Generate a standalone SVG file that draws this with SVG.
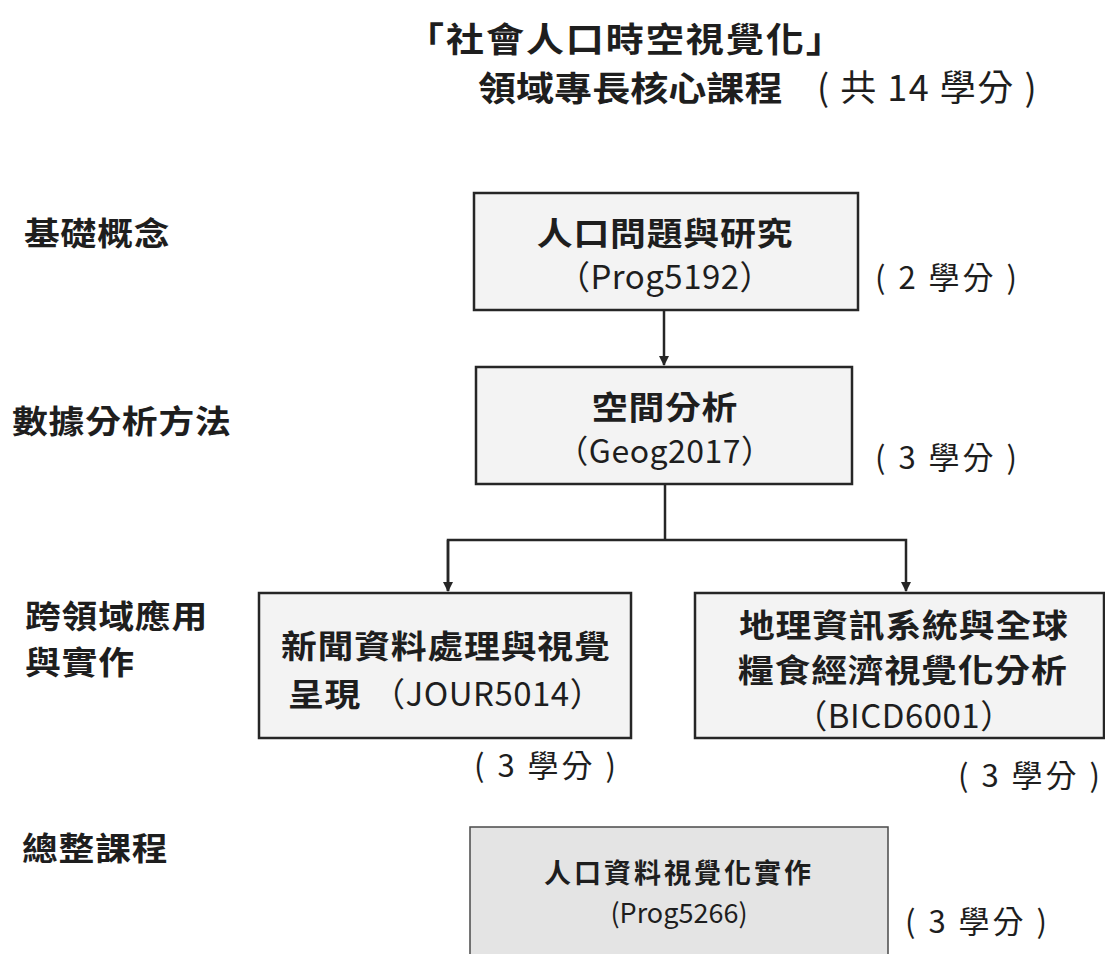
<svg xmlns="http://www.w3.org/2000/svg" width="1105" height="954" viewBox="0 0 1105 954">
<style>
text{font-family:"Noto Sans CJK TC","Noto Sans CJK SC",sans-serif;fill:#1e1e1e}
.b{font-weight:700;font-size:32px;letter-spacing:0.7px}
.r{font-weight:400;font-size:33px;letter-spacing:0.5px}
.c{font-weight:400;font-size:31px;letter-spacing:3px}
.t{font-weight:700;font-size:34px}
.box{fill:#f3f3f3;stroke:#262626;stroke-width:2.5}
.box5{fill:#e4e4e4;stroke:#4a4a4a;stroke-width:1.5}
.con{fill:none;stroke:#262626;stroke-width:2.5}
</style>
<defs>
<marker id="ah" viewBox="0 0 10 10" refX="9" refY="5" markerWidth="4" markerHeight="4" orient="auto" markerUnits="strokeWidth">
<path d="M0,0 L10,5 L0,10 z" fill="#262626"/>
</marker>
</defs>
<rect width="1105" height="954" fill="#ffffff"/>
<g id="title">
<text class="t" transform="translate(406,52) scale(1.12,1)" style="letter-spacing:1.7px">「社會人口時空視覺化」</text>
<text class="t" transform="translate(478,101) scale(1.12,1)">領域專長核心課程</text>
<text x="817" y="101" style="font-weight:400;font-size:36px;letter-spacing:1.5px">( 共 14 學分 )</text>
</g>
<g id="levels">
<text class="b" transform="translate(24,245) scale(1.12,1)">基礎概念</text>
<text class="b" transform="translate(12,433) scale(1.12,1)">數據分析方法</text>
<text class="b" transform="translate(25,628) scale(1.12,1)">跨領域應用</text>
<text class="b" transform="translate(25,674) scale(1.12,1)">與實作</text>
<text class="b" transform="translate(22,860) scale(1.12,1)">總整課程</text>
</g>
<g id="connectors">
<line class="con" x1="664" y1="310" x2="664" y2="365" marker-end="url(#ah)"/>
<polyline class="con" points="665,484 665,540"/>
<polyline class="con" points="448,591 448,540 906,540 906,591" marker-end="url(#ah)"/>
<line class="con" x1="448" y1="540" x2="448" y2="591" marker-end="url(#ah)"/>
</g>
<g id="n1">
<rect class="box" x="474" y="193" width="384" height="117"/>
<text class="b" transform="translate(665,245) scale(1.12,1)" text-anchor="middle">人口問題與研究</text>
<text class="r" x="665" y="289" text-anchor="middle">（Prog5192）</text>
<text class="c" x="875" y="289">( 2 學分 )</text>
</g>
<g id="n2">
<rect class="box" x="476" y="367" width="376" height="117"/>
<text class="b" transform="translate(665,419) scale(1.12,1)" text-anchor="middle">空間分析</text>
<text class="r" x="665" y="463" text-anchor="middle" style="font-size:32px">（Geog2017）</text>
<text class="c" x="875" y="469">( 3 學分 )</text>
</g>
<g id="n3">
<rect class="box" x="259" y="593" width="372" height="145"/>
<text class="b" transform="translate(281,658) scale(1.12,1)">新聞資料處理與視覺</text>
<text class="b" transform="translate(288,706) scale(1.12,1)">呈現</text>
<text class="r" x="372" y="706">（JOUR5014）</text>
<text class="c" x="474" y="777">( 3 學分 )</text>
</g>
<g id="n4">
<rect class="box" x="695" y="593" width="409" height="145"/>
<text class="b" transform="translate(739,637) scale(1.12,1)">地理資訊系統與全球</text>
<text class="b" transform="translate(738,682) scale(1.12,1)">糧食經濟視覺化分析</text>
<text class="r" x="904" y="728" text-anchor="middle">（BICD6001）</text>
<text class="c" x="958" y="787">( 3 學分 )</text>
</g>
<g id="n5">
<rect class="box5" x="470" y="827" width="418" height="140"/>
<text x="679" y="883" text-anchor="middle" style="font-weight:700;font-size:27px;letter-spacing:3px">人口資料視覺化實作</text>
<text x="679" y="923" text-anchor="middle" style="font-weight:400;font-size:27px">(Prog5266)</text>
<text class="c" x="905" y="933">( 3 學分 )</text>
</g>
</svg>
